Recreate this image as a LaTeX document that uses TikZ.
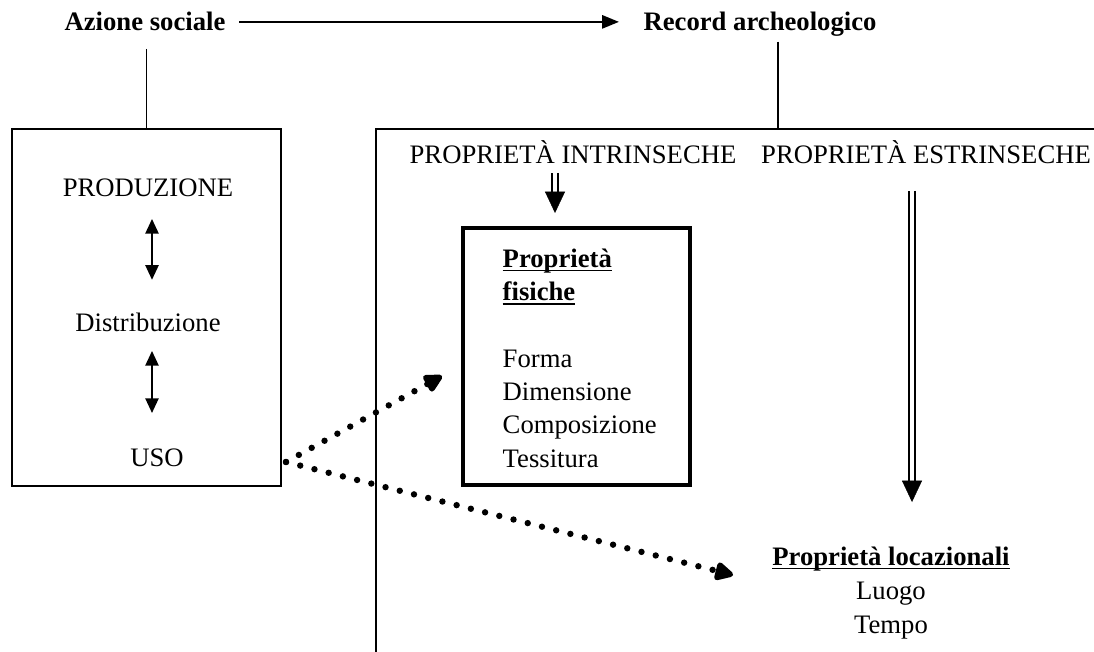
\documentclass[tikz,border=0pt]{standalone}
\usepackage{fontspec}
\setmainfont{Liberation Serif}
\usetikzlibrary{arrows.meta}

% underline sitting just under the baseline
\newcommand{\sottolinea}[1]{\setbox0=\hbox{#1}\rlap{\rule[-3pt]{\wd0}{0.9pt}}\box0}

\tikzset{every picture/.style={line width=1.1pt}}
\tikzset{
  txt/.style={inner sep=0pt, font=\fontsize{20}{25}\selectfont},
  titolo/.style={inner sep=0pt, font=\fontsize{20}{25}\selectfont\bfseries},
  freccia/.style={-{Triangle[length=12.5pt,width=10pt]}},
  doppiapunta/.style={{Triangle[length=11pt,width=10pt]}-{Triangle[length=11pt,width=10pt]}},
  % double shaft, the tip goes on in a second pass
  fusto/.style={double, double distance=2.4pt, line width=1.6pt},
  punta/.style={white, line width=0.3pt, -{Triangle[length=16pt,width=15pt,color=black]}},
  puntini/.style={line width=4.8pt, dash pattern=on 0pt off 11pt, line cap=round,
    -{Triangle[length=16pt,width=15pt,round=false]}},
}

\begin{document}
\begin{tikzpicture}[x=0.75pt,y=0.75pt,yscale=-1,xscale=1]
\useasboundingbox (0,0) rectangle (1094,652);

% Text Node
\node[titolo, anchor=base] (azione) at (145,31) {Azione sociale};
% Text Node
\node[titolo, anchor=base] (record) at (760,31) {Record archeologico};
%Straight Lines
\draw[freccia, shorten <=9.75pt, shorten >=18pt] (azione.east) -- (azione.east -| record.west);

%Shape: Rectangle
\node[draw, minimum width=201.75pt, minimum height=267.75pt, inner sep=0pt] (sinistra) at (146.5,307.5) {};
\draw[shorten <=12.75pt] (sinistra.north |- azione.south) -- (sinistra.north);

% Text Node
\node[txt, anchor=base] (produzione) at (148,197) {PRODUZIONE};
% Text Node
\node[txt, anchor=base] (distribuzione) at (148,331) {Distribuzione};
% Text Node
\node[txt, anchor=base] (uso) at (157,466) {USO};
\draw[doppiapunta, shorten <=15.75pt, shorten >=24pt] ([xshift=3pt]produzione.south) -- ([xshift=3pt]distribuzione.north);
\draw[doppiapunta, shorten <=14.25pt, shorten >=26pt] ([xshift=3pt]distribuzione.south) -- ([xshift=-3.75pt]uso.north);

%Straight Lines
\coordinate (piede) at (778,129);
\draw (376,652) -- (376,129) -- (1094,129);
\draw[shorten <=3pt] (piede |- record.south) -- (piede);

% Text Node
\node[txt, anchor=base] (intrinseche) at (573,164) {PROPRIETÀ INTRINSECHE};
% Text Node
\node[txt, anchor=base] (estrinseche) at (926,164) {PROPRIETÀ ESTRINSECHE};

%Shape: Rectangle
\node[draw, line width=3.6pt, minimum width=170.25pt, minimum height=192.75pt, inner sep=0pt] (fisiche) at (576.5,356.5) {};
% Text Node
\node[txt, anchor=north west, align=left] (elenco) at (502,248)
  {\sottolinea{\textbf{Proprietà}}\\ \sottolinea{\textbf{fisiche}}\\[25pt]
   Forma\\ Dimensione\\ Composizione\\ Tessitura};

% Text Node
\node[txt, anchor=north, align=center, font=\fontsize{20}{25.5}\selectfont] (locazionali) at (891,546)
  {\sottolinea{\textbf{Proprietà locazionali}}\\ Luogo\\ Tempo};

%Double arrows
\coordinate (puntaintr) at (555,213);
\coordinate (puntaestr) at (912,502);
\draw[fusto, shorten <=6pt, shorten >=12pt] (puntaintr |- intrinseche.south) -- (puntaintr);
\draw[punta, shorten <=6pt] (puntaintr |- intrinseche.south) -- (puntaintr);
\draw[fusto, shorten <=19.5pt, shorten >=12pt] (puntaestr |- estrinseche.south) -- (puntaestr);
\draw[punta, shorten <=19.5pt] (puntaestr |- estrinseche.south) -- (puntaestr);

%Dotted arrows
\coordinate (partenza) at (286,462);
\coordinate (versofisiche) at (442,376);
\coordinate (versoluogo) at (733,575);
\draw[puntini] (partenza) -- (versofisiche);
\draw[puntini] (partenza) -- (versoluogo);

\end{tikzpicture}
\end{document}
